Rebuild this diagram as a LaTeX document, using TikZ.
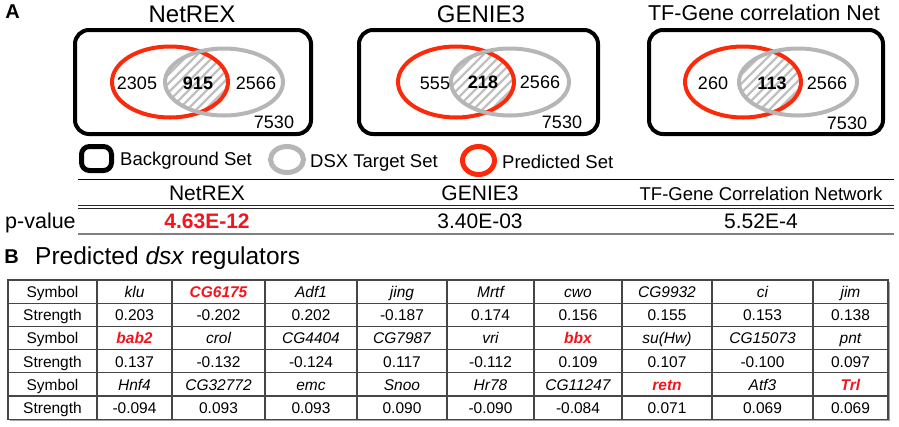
\documentclass[tikz,border=0pt]{standalone}
\usepackage{fontspec}
\setmainfont{Liberation Sans}
\definecolor{predred}{RGB}{250,42,10}
\definecolor{tred}{RGB}{242,22,28}
\definecolor{dsxgrey}{RGB}{182,182,182}
\definecolor{hatchgrey}{RGB}{192,192,192}
\definecolor{tlinecol}{RGB}{70,70,70}
\newcommand\hl[1]{\textcolor{tred}{\bfseries\itshape #1}}
\begin{document}
\begin{tikzpicture}[x=1pt,y=-1pt,
  bgbox/.style={draw=black, line width=4pt, rounded corners=14pt},
  predell/.style={draw=predred, line width=4pt},
  dsxell/.style={draw=dsxgrey, line width=4pt},
  hatchline/.style={draw=hatchgrey, line width=2.2pt},
  ttl/.style={inner sep=0pt, font=\fontsize{24}{28}\selectfont},
  num/.style={inner sep=0pt, font=\fontsize{18}{21}\selectfont},
  bnum/.style={inner sep=0pt, font=\fontsize{18}{21}\selectfont\bfseries},
  leg/.style={inner sep=0pt, anchor=base west, font=\fontsize{18.5}{22}\selectfont},
  ptxt/.style={inner sep=0pt, anchor=base, font=\fontsize{21}{24}\selectfont},
  cell/.style={inner sep=0pt, anchor=base, font=\fontsize{15.5}{18}\selectfont},
  tline/.style={draw=tlinecol, line width=1.1pt},
  panel/.style={inner sep=0pt, font=\fontsize{20}{24}\selectfont\bfseries}
]
\useasboundingbox (0,0) rectangle (899,426);
\fill[white] (0,0) rectangle (899,426);

% ---------- panel A ----------
\node[panel] (labA) at (12.5,11.7) {A};
\node[ttl] (t1) at (192,14.3) {NetREX};
\node[ttl] (t2) at (481,14.3) {GENIE3};
\node[ttl, font=\fontsize{21.5}{25}\selectfont] (t3) at (764,13.3) {TF-Gene correlation Net};

% Venn 1
\draw[bgbox] (75,30) rectangle (311,134);
\begin{scope}
  \clip (170,82) ellipse [x radius=58, y radius=35.5];
  \clip (224,82) ellipse [x radius=59, y radius=33.5];
  \foreach \k in {-130,-121,...,90} \draw[hatchline] (170+\k,140) -- ++(110,-110);
\end{scope}
\draw[predell] (170,82) ellipse [x radius=58, y radius=35.5];
\draw[dsxell] (224,82) ellipse [x radius=59, y radius=33.5];
\node[num] (v1a) at (137,83) {2305};
\node[bnum] (v1b) at (198,83) {915};
\node[num] (v1c) at (256,83) {2566};
\node[num] (v1d) at (274,122) {7530};

% Venn 2
\draw[bgbox] (359,30) rectangle (598,134);
\begin{scope}
  \clip (456,82) ellipse [x radius=58, y radius=35.5];
  \clip (510,82) ellipse [x radius=59, y radius=33.5];
  \foreach \k in {-130,-121,...,90} \draw[hatchline] (456+\k,140) -- ++(110,-110);
\end{scope}
\draw[predell] (456,82) ellipse [x radius=58, y radius=35.5];
\draw[dsxell] (510,82) ellipse [x radius=59, y radius=33.5];
\node[num] (v2a) at (435,83) {555};
\node[bnum] (v2b) at (483,82) {218};
\node[num] (v2c) at (540,82) {2566};
\node[num] (v2d) at (562,122) {7530};

% Venn 3
\draw[bgbox] (649,30) rectangle (883,134);
\begin{scope}
  \clip (743,82) ellipse [x radius=58, y radius=35.5];
  \clip (798,82) ellipse [x radius=59, y radius=33.5];
  \foreach \k in {-130,-121,...,90} \draw[hatchline] (743+\k,140) -- ++(110,-110);
\end{scope}
\draw[predell] (743,82) ellipse [x radius=58, y radius=35.5];
\draw[dsxell] (798,82) ellipse [x radius=59, y radius=33.5];
\node[num] (v3a) at (713,83) {260};
\node[bnum] (v3b) at (772,83) {113};
\node[num] (v3c) at (827,83) {2566};
\node[num] (v3d) at (847,123) {7530};

% legend
\draw[draw=black, line width=5pt, rounded corners=8pt] (81.5,146.5) rectangle (111.5,170.5);
\node[leg] (lg1) at (120,165) {Background Set};
\draw[dsxell, line width=5pt] (287,159.5) ellipse [x radius=16.5, y radius=13];
\node[leg] (lg2) at (310,167) {DSX Target Set};
\draw[predell, line width=5pt] (478.5,160.5) ellipse [x radius=16, y radius=14];
\node[leg] (lg3) at (502,168) {Predicted Set};

% p-value table
\draw[black, line width=1.1pt] (78,179.5) -- (894,179.5);
\draw[black!85, line width=1pt] (78,205) -- (894,205);
\draw[black!85, line width=1pt] (78,208.5) -- (894,208.5);
\draw[black!50, line width=2pt] (78,233.5) -- (894,233.5);
\node[ptxt] (h1) at (207,200.5) {NetREX};
\node[ptxt] (h2) at (480,200.5) {GENIE3};
\node[ptxt, font=\fontsize{18.5}{22}\selectfont] (h3) at (761,200) {TF-Gene Correlation Network};
\node[ptxt, anchor=base west, font=\fontsize{21.5}{24}\selectfont] (pv) at (5,228) {p-value};
\node[ptxt, text=tred, font=\fontsize{21}{24}\selectfont\bfseries] (p1) at (207,228) {4.63E-12};
\node[ptxt] (p2) at (480,228) {3.40E-03};
\node[ptxt] (p3) at (761,228) {5.52E-4};

% ---------- panel B ----------
\node[panel] (labB) at (11.7,256.7) {B};
\node[inner sep=0pt, anchor=base west, font=\fontsize{24.5}{28}\selectfont] (btitle) at (35,264) {Predicted \textit{dsx} regulators};

% table grid
\draw[black!35, line width=1.5pt] (10,420.6) -- (889.6,420.6) -- (889.6,282);
\foreach \yy in {303.2,326.4,349.6,372.8,396} \draw[tline] (8,\yy) -- (888,\yy);
\foreach \xx in {97,172,265,357,447,534,622,712,813} \draw[tline] (\xx,280) -- (\xx,419.2);
\draw[tline] (8,280) rectangle (888,419.2);

% table cells
\node[cell] (r1c0) at (52.5,297.5) {Symbol};
\node[cell] (r2c0) at (52.5,320.7) {Strength};
\node[cell] (r3c0) at (52.5,343.9) {Symbol};
\node[cell] (r4c0) at (52.5,367.1) {Strength};
\node[cell] (r5c0) at (52.5,390.3) {Symbol};
\node[cell] (r6c0) at (52.5,413.5) {Strength};
\foreach \cx/\ctext [count=\i] in {134.5/klu,218.5/\hl{CG6175},311/Adf1,402/jing,490.5/Mrtf,578/cwo,667/CG9932,762.5/ci,850.5/jim}
  \node[cell] (r1c\i) at (\cx,297.5) {\itshape \ctext};
\foreach \cx/\ctext [count=\i] in {134.5/0.203,218.5/-0.202,311/0.202,402/-0.187,490.5/0.174,578/0.156,667/0.155,762.5/0.153,850.5/0.138}
  \node[cell] (r2c\i) at (\cx,320.7) {\ctext};
\foreach \cx/\ctext [count=\i] in {134.5/\hl{bab2},218.5/crol,311/CG4404,402/CG7987,490.5/vri,578/\hl{bbx},667/{su(Hw)},762.5/CG15073,850.5/pnt}
  \node[cell] (r3c\i) at (\cx,343.9) {\itshape \ctext};
\foreach \cx/\ctext [count=\i] in {134.5/0.137,218.5/-0.132,311/-0.124,402/0.117,490.5/-0.112,578/0.109,667/0.107,762.5/-0.100,850.5/0.097}
  \node[cell] (r4c\i) at (\cx,367.1) {\ctext};
\foreach \cx/\ctext [count=\i] in {134.5/Hnf4,218.5/CG32772,311/emc,402/Snoo,490.5/Hr78,578/CG11247,667/\hl{retn},762.5/Atf3,850.5/\hl{Trl}}
  \node[cell] (r5c\i) at (\cx,390.3) {\itshape \ctext};
\foreach \cx/\ctext [count=\i] in {134.5/-0.094,218.5/0.093,311/0.093,402/0.090,490.5/-0.090,578/-0.084,667/0.071,762.5/0.069,850.5/0.069}
  \node[cell] (r6c\i) at (\cx,413.5) {\ctext};
\end{tikzpicture}
\end{document}
